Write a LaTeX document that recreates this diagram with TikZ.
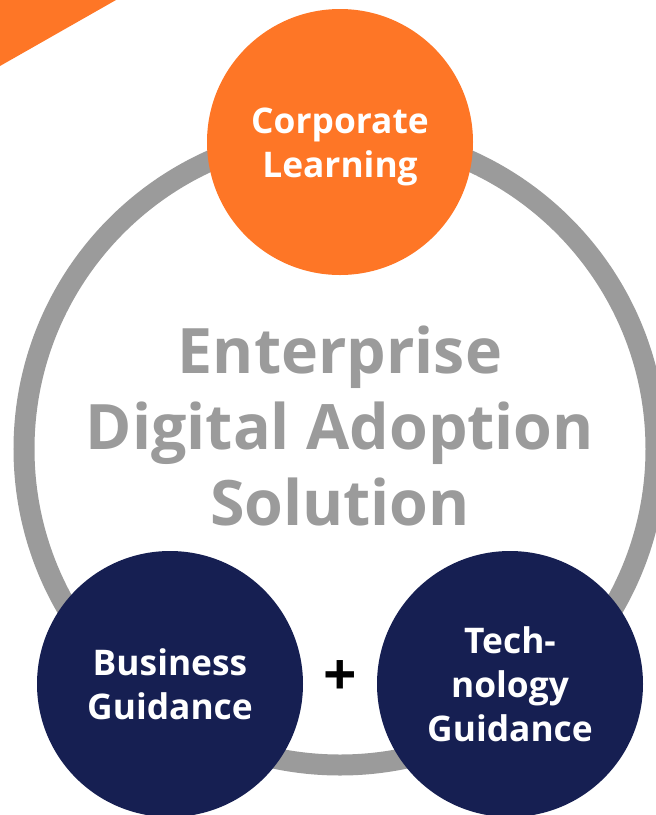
\documentclass[tikz,border=0pt]{standalone}
\usepackage{fontspec}
\setmainfont{Open Sans}
\definecolor{dapOrange}{RGB}{254,118,38}
\definecolor{dapNavy}{RGB}{22,31,82}
\definecolor{dapGrey}{RGB}{155,155,155}
\tikzset{
  bubble/.style={circle, minimum size=266*0.75pt, inner sep=0pt, align=center, text=white, font=\fontsize{26.5}{33}\selectfont\bfseries},
}
\begin{document}
\begin{tikzpicture}[x=0.75pt,y=0.75pt,yscale=-1,xscale=1]
	%set diagram frame to 656 x 815
	\useasboundingbox (0,0) rectangle (656,815);
	
	%Shape: Triangle [id:corner]
	\fill [dapOrange] (0,0) -- (116,0) -- (0,66) -- cycle ;
	%Shape: Ring [id:ring]
	\draw [dapGrey, line width=21*0.75pt] (340,449) circle [radius=316] ;
	
	% Text Node
	\node [text=dapGrey, align=center, font=\fontsize{47}{57}\selectfont\bfseries] (title) at (340,426) {Enterprise\\Digital Adoption\\Solution};
	
	%Shape: Circle [id:learning]
	\node [bubble, fill=dapOrange] (learning) at (340,142) {\rule{0pt}{27pt}Corporate\\Learning};
	%Shape: Circle [id:business]
	\node [bubble, fill=dapNavy] (business) at (170,684) {Business\\Guidance};
	%Shape: Circle [id:technology]
	\node [bubble, fill=dapNavy] (technology) at (510,684) {Tech-\\nology\\Guidance};
	
	% Text Node
	\node [font=\fontsize{44}{44}\selectfont\bfseries] (plus) at (340,678) {+};
	
\end{tikzpicture}
\end{document}
